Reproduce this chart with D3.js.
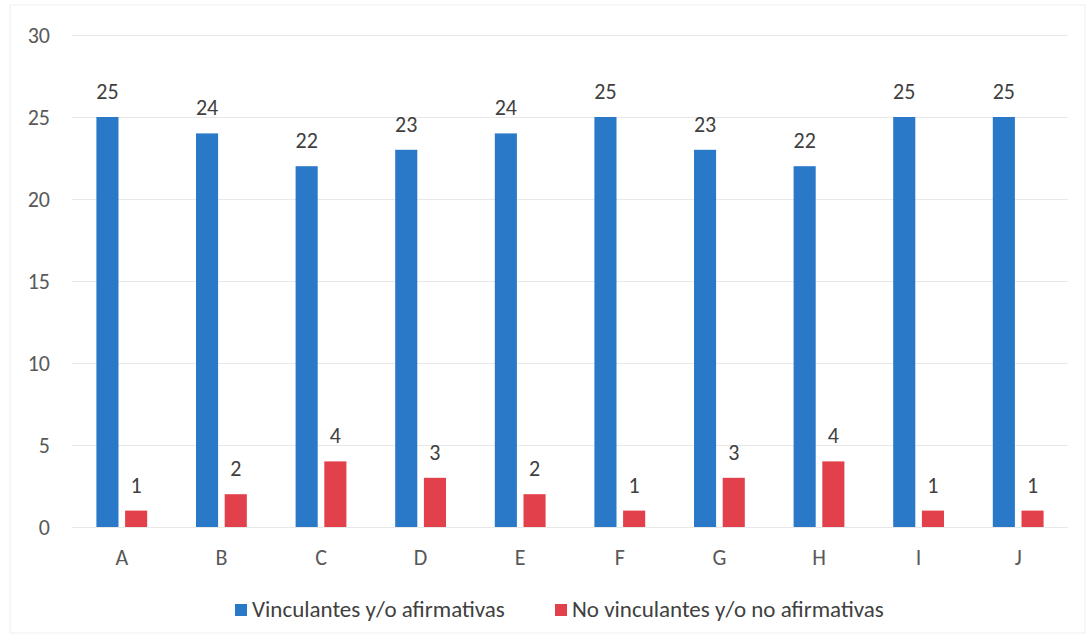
<!DOCTYPE html>
<html>
<head>
<meta charset="utf-8">
<script src="https://cdn.jsdelivr.net/npm/d3@7"></script>
<style>
  body { margin: 0; background: #fff; }
  svg text { font-family: Carlito, "Open Sans", "Liberation Sans", sans-serif; }
</style>
</head>
<body>
<svg width="1090" height="636"></svg>
<script>
const categories = ["A", "B", "C", "D", "E", "F", "G", "H", "I", "J"];
const seriesNames = ["Vinculantes y/o afirmativas", "No vinculantes y/o no afirmativas"];
const vinculantes = [25, 24, 22, 23, 24, 25, 23, 22, 25, 25];
const noVinculantes = [1, 2, 4, 3, 2, 1, 3, 4, 1, 1];
const yTicks = [0, 5, 10, 15, 20, 25, 30];
const colors = ["#2a78c8", "#e2404a"];

let svg = d3.select("svg"),
  plotLeft = 72, plotRight = 1068, plotTop = 35, plotBottom = 527;

// faint frame of the scanned chart
svg.append("rect")
  .attr("x", 10).attr("y", 5)
  .attr("width", 1075).attr("height", 628)
  .attr("fill", "none").attr("stroke", "#efefef");

let data = categories.map(function (c, i) {
  return { cat: c, values: [vinculantes[i], noVinculantes[i]] };
});

let x0 = d3.scaleBand().domain(categories).range([plotLeft, plotRight])
  .paddingInner(0.49).paddingOuter(0.245);
let x1 = d3.scaleBand().domain([0, 1]).range([0, x0.bandwidth()]).paddingInner(0.23);
let y = d3.scaleLinear().domain([0, 30]).range([plotBottom, plotTop]);

// gridlines + y labels
let yAxis = svg.append("g")
  .attr("transform", "translate(" + plotLeft + ",0)")
  .call(d3.axisLeft(y).tickValues(yTicks).tickSize(-(plotRight - plotLeft)).tickPadding(22));
yAxis.select(".domain").remove();
yAxis.selectAll("line").attr("stroke", "#e8e8e8");
yAxis.selectAll("text").attr("fill", "#595959").attr("font-size", "22px");

// category labels
let xAxis = svg.append("g")
  .attr("transform", "translate(0," + plotBottom + ")")
  .call(d3.axisBottom(x0).tickSize(0).tickPadding(22));
xAxis.select(".domain").remove();
xAxis.selectAll("text").attr("fill", "#595959").attr("font-size", "22px");

let groups = svg.selectAll(".grp")
  .data(data)
  .enter()
  .append("g")
  .attr("transform", function (d) { return "translate(" + x0(d.cat) + ",0)"; });

groups.selectAll("rect")
  .data(function (d) { return d.values; })
  .enter()
  .append("rect")
  .attr("x", function (d, i) { return x1(i); })
  .attr("y", function (d) { return y(d); })
  .attr("width", x1.bandwidth())
  .attr("height", function (d) { return y(0) - y(d); })
  .attr("fill", function (d, i) { return colors[i]; });

groups.selectAll("text")
  .data(function (d) { return d.values; })
  .enter()
  .append("text")
  .attr("x", function (d, i) { return x1(i) + x1.bandwidth() / 2; })
  .attr("y", function (d) { return y(d) - 18; })
  .attr("text-anchor", "middle")
  .attr("fill", "#404040")
  .attr("font-size", "22px")
  .text(function (d) { return d; });

// legend
let legendX = [235, 555];
let legend = svg.selectAll(".legend")
  .data(seriesNames)
  .enter()
  .append("g")
  .attr("transform", function (d, i) { return "translate(" + legendX[i] + ",604)"; });
legend.append("rect")
  .attr("width", 12).attr("height", 12)
  .attr("fill", function (d, i) { return colors[i]; });
legend.append("text")
  .attr("x", 17).attr("y", 13)
  .attr("fill", "#404040")
  .attr("font-size", "23px")
  .text(function (d) { return d; });
</script>
</body>
</html>
